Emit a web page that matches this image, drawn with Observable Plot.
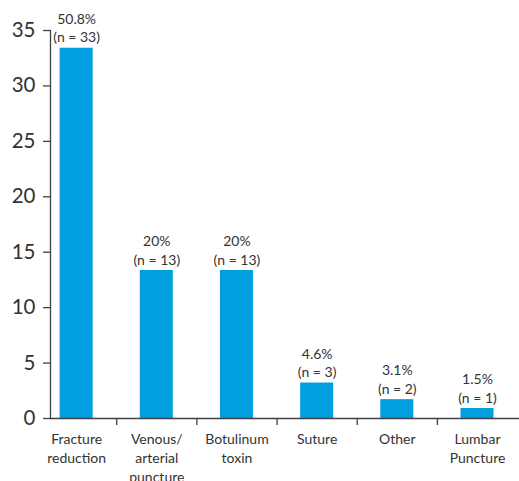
<!DOCTYPE html>
<html>
<head>
<meta charset="utf-8">
<script src="https://cdn.jsdelivr.net/npm/d3@7"></script>
<script src="https://cdn.jsdelivr.net/npm/@observablehq/plot@0.6"></script>
<style>
  html, body { margin: 0; padding: 0; background: white; }
</style>
</head>
<body>
<div id="chart"></div>
<script>
const categories = ["Fracture\nreduction", "Venous/\narterial\npuncture", "Botulinum\ntoxin", "Suture", "Other", "Lumbar\nPuncture"];
const barHeights = [33.4, 13.35, 13.35, 3.2, 1.7, 0.9];
const percents = ["50.8%", "20%", "20%", "4.6%", "3.1%", "1.5%"];
const nValues = [33, 13, 13, 3, 2, 1];
const yTicks = [0, 5, 10, 15, 20, 25, 30, 35];

const data = categories.map((c, i) => ({i, cat: c, value: barHeights[i], pct: percents[i], n: nValues[i]}));
const half = 0.206;
const xDomain = [-0.326, 5.524];
const ink = "#333333";
const axisInk = "#404040";

const chart = Plot.plot({
  width: 519,
  height: 481,
  marginLeft: 50,
  marginRight: 0,
  marginTop: 30,
  marginBottom: 63,
  x: {domain: xDomain, axis: null},
  y: {domain: [0, 35], axis: null},
  style: {fontFamily: "Lato, 'Open Sans', sans-serif", color: ink, background: "white"},
  marks: [
    Plot.rectY(data, {x1: d => d.i - half, x2: d => d.i + half, y: "value", fill: "#009fe0"}),
    Plot.ruleY([0], {stroke: axisInk, strokeWidth: 1.3}),
    Plot.ruleX([xDomain[0]], {y1: 0, y2: 35, stroke: axisInk, strokeWidth: 1.3}),
    Plot.axisY({ticks: yTicks, tickSize: 7, tickPadding: 8, fontSize: 20.5, label: null, stroke: axisInk, strokeWidth: 1.3, fill: ink}),
    Plot.axisX({ticks: data.slice(0, 5).map(d => d.i + 0.5), tickSize: 7, tickFormat: () => "", label: null, stroke: axisInk, strokeWidth: 1.3}),
    Plot.axisX({ticks: data.map(d => d.i), tickSize: 0, tickPadding: 12, tickFormat: i => categories[i], fontSize: 14, lineHeight: 1.36, label: null, fill: ink}),
    Plot.text(data, {x: "i", y: "value", text: d => `${d.pct}\n(n = ${d.n})`, lineAnchor: "bottom", dy: -6, fontSize: 14, lineHeight: 1.3, fill: ink})
  ]
});
document.getElementById("chart").appendChild(chart);
</script>
</body>
</html>
